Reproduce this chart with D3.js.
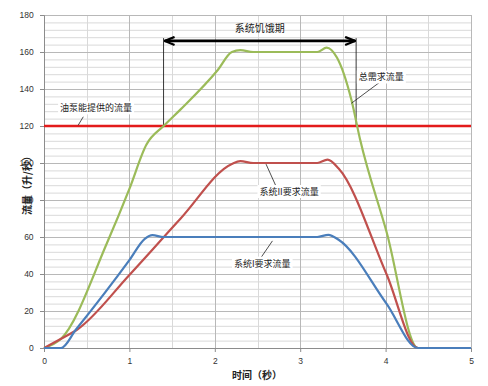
<!DOCTYPE html>
<html>
<head>
<meta charset="utf-8">
<script src="https://cdn.jsdelivr.net/npm/d3@7"></script>
<style>
  body { margin: 0; background: #fff; }
  text { font-family: "Liberation Sans", "Noto Sans CJK SC", sans-serif; }
  .cjk { font-family: "Noto Sans CJK SC", sans-serif; }
</style>
</head>
<body>
<div id="chart"></div>
<script>
// values (time in s, flow in L/s)
var xTicks = [0, 1, 2, 3, 4, 5];
var yTicks = [0, 20, 40, 60, 80, 100, 120, 140, 160, 180];

var sys1Flow = [[0,0],[0.2,0],[0.37,9.7],[1.0,47.5],[1.18,59],[1.27,61],[1.4,60],[3.2,60],[3.33,61.2],[3.45,58.5],[4.01,24],[4.38,0],[5,0]];
var sys2Flow = [[0,0],[0.2,5],[0.39,10],[1.0,39.5],[1.6,70],[2.2,99.5],[2.3,101],[2.45,100],[3.2,100],[3.32,101.8],[3.45,97],[4.01,40],[4.38,0],[5,0]];
var totalFlow = [[0,0],[0.2,5],[0.74,57],[1.0,86],[1.2,110],[1.4,120],[1.6,129],[2.03,150],[2.2,160],[2.3,161],[2.45,160],[3.2,160],[3.31,162.4],[3.43,157],[3.6,134],[3.7,113],[4.01,63],[4.38,0],[5,0]];
var pumpFlow = [[0,120],[5,120]];

var starveTimes = [1.4, 3.655];
var starveLevel = 166;

var callouts = [
    {text: "油泵能提供的流量", at: [0.61, 129.6], from: [0.46, 125], to: [0.40, 120.4]},
    {text: "总需求流量", at: [3.95, 146.3], from: [3.93, 143.6], to: [3.60, 132.3]},
    {text: "系统II要求流量", at: [2.87, 84.4], from: [2.72, 87.1], to: [2.60, 99.4]},
    {text: "系统I要求流量", at: [2.556, 45.7], from: [2.534, 48.4], to: [2.675, 57.9]}
];

var W = 488, H = 386;
var margin = {top: 15, right: 17, bottom: 38, left: 44};
var width = W - margin.left - margin.right,
    height = H - margin.top - margin.bottom;

var svg = d3.select("#chart").append("svg")
    .attr("width", W)
    .attr("height", H);

var g = svg.append("g")
    .attr("transform", "translate(" + margin.left + "," + margin.top + ")");

var x = d3.scaleLinear().domain([0, 5]).range([0, width]);
var y = d3.scaleLinear().domain([0, 180]).range([height, 0]);

// minor + major gridlines
g.append("g").selectAll("line").data(d3.range(0, 181, 4).filter(d => d % 20 !== 0))
    .enter().append("line")
    .attr("x1", 0).attr("x2", width)
    .attr("y1", d => y(d) + 0.5).attr("y2", d => y(d) + 0.5)
    .attr("stroke", "#d9d9d9");
g.append("g").selectAll("line").data(d3.range(0.5, 5, 1))
    .enter().append("line")
    .attr("y1", 0).attr("y2", height)
    .attr("x1", d => Math.round(x(d)) + 0.5).attr("x2", d => Math.round(x(d)) + 0.5)
    .attr("stroke", "#d9d9d9");
g.append("g").selectAll("line").data(yTicks.slice(1))
    .enter().append("line")
    .attr("x1", 0).attr("x2", width)
    .attr("y1", d => y(d) + 0.5).attr("y2", d => y(d) + 0.5)
    .attr("stroke", "#b8b8b8");
g.append("g").selectAll("line").data(xTicks.slice(1))
    .enter().append("line")
    .attr("y1", 0).attr("y2", height)
    .attr("x1", d => Math.round(x(d)) + 0.5).attr("x2", d => Math.round(x(d)) + 0.5)
    .attr("stroke", "#b8b8b8");

var xAxis = d3.axisBottom(x).tickValues(xTicks).tickSize(4).tickFormat(d3.format("d"));
var yAxis = d3.axisLeft(y).tickValues(yTicks).tickSize(4);

g.append("g")
    .attr("transform", "translate(0," + height + ")")
    .call(xAxis)
    .call(a => a.select(".domain").attr("stroke", "#8c8c8c"))
    .call(a => a.selectAll(".tick line").attr("stroke", "#8c8c8c"))
    .selectAll("text")
        .attr("dy", "1.1em")
        .style("font-size", "8.5px")
        .attr("fill", "#333");

g.append("g")
    .call(yAxis)
    .call(a => a.select(".domain").attr("stroke", "#8c8c8c"))
    .call(a => a.selectAll(".tick line").attr("stroke", "#8c8c8c"))
    .selectAll("text")
        .attr("dx", "-0.4em")
        .style("font-size", "8.5px")
        .attr("fill", "#333");

// axis titles
svg.append("text")
    .attr("class", "cjk")
    .attr("transform", "translate(31,183) rotate(-90)")
    .attr("text-anchor", "middle")
    .style("font-size", "10px")
    .style("font-weight", "bold")
    .attr("fill", "#222")
    .text("流量（升/秒）");

svg.append("text")
    .attr("class", "cjk")
    .attr("x", 257).attr("y", 379)
    .attr("text-anchor", "middle")
    .style("font-size", "10px")
    .style("font-weight", "bold")
    .attr("fill", "#222")
    .text("时间（秒）");

// starvation period bracket
var bracket = g.append("g");
starveTimes.forEach(function(t) {
    bracket.append("line")
        .attr("x1", x(t)).attr("x2", x(t))
        .attr("y1", y(starveLevel + 1.5)).attr("y2", y(120))
        .attr("stroke", "#222").attr("stroke-width", 0.9);
});

svg.append("defs").selectAll("marker").data(["start", "end"])
    .enter().append("marker")
    .attr("id", d => "arr-" + d)
    .attr("viewBox", "0 0 12 10")
    .attr("refX", d => d === "end" ? 11 : 1)
    .attr("refY", 5)
    .attr("markerWidth", 12).attr("markerHeight", 10)
    .attr("markerUnits", "userSpaceOnUse")
    .attr("orient", "auto")
    .append("path")
        .attr("d", d => d === "end" ? "M1,1 L11,5 L1,9" : "M11,1 L1,5 L11,9")
        .attr("fill", "none")
        .attr("stroke", "#000")
        .attr("stroke-width", 2.2);

bracket.append("line")
    .attr("x1", x(starveTimes[0]) + 1).attr("x2", x(starveTimes[1]) - 1)
    .attr("y1", y(starveLevel)).attr("y2", y(starveLevel))
    .attr("stroke", "#000").attr("stroke-width", 2.6)
    .attr("marker-start", "url(#arr-start)")
    .attr("marker-end", "url(#arr-end)");

bracket.append("text")
    .attr("class", "cjk")
    .attr("x", x(d3.mean(starveTimes)))
    .attr("y", y(starveLevel) - 9)
    .attr("text-anchor", "middle")
    .style("font-size", "10px")
    .attr("fill", "#222")
    .text("系统饥饿期");

// series
var line = d3.line()
    .x(d => x(d[0]))
    .y(d => y(d[1]))
    .curve(d3.curveMonotoneX);

var series = [
    {data: pumpFlow, color: "#e31b1b", w: 2.6},
    {data: totalFlow, color: "#9bbb59", w: 2.2},
    {data: sys2Flow, color: "#c0504d", w: 2.2},
    {data: sys1Flow, color: "#4a7ebb", w: 2.2}
];

g.selectAll(".series").data(series)
    .enter().append("path")
    .attr("class", "series")
    .attr("d", d => line(d.data))
    .attr("fill", "none")
    .attr("stroke", d => d.color)
    .attr("stroke-width", d => d.w)
    .attr("stroke-linejoin", "round");

// callouts
var co = g.selectAll(".callout").data(callouts)
    .enter().append("g").attr("class", "callout");

co.append("line")
    .attr("x1", d => x(d.from[0])).attr("y1", d => y(d.from[1]))
    .attr("x2", d => x(d.to[0])).attr("y2", d => y(d.to[1]))
    .attr("stroke", "#222").attr("stroke-width", 0.8);

co.each(function(d) {
    var grp = d3.select(this);
    var t = grp.append("text")
        .attr("class", "cjk")
        .attr("x", x(d.at[0]))
        .attr("y", y(d.at[1]))
        .attr("dy", "0.35em")
        .attr("text-anchor", "middle")
        .style("font-size", "9px")
        .attr("fill", "#222")
        .text(d.text);
    var b = t.node().getBBox();
    grp.insert("rect", "text")
        .attr("x", b.x - 2).attr("y", b.y)
        .attr("width", b.width + 4).attr("height", b.height)
        .attr("fill", "#fff");
});
</script>
</body>
</html>
